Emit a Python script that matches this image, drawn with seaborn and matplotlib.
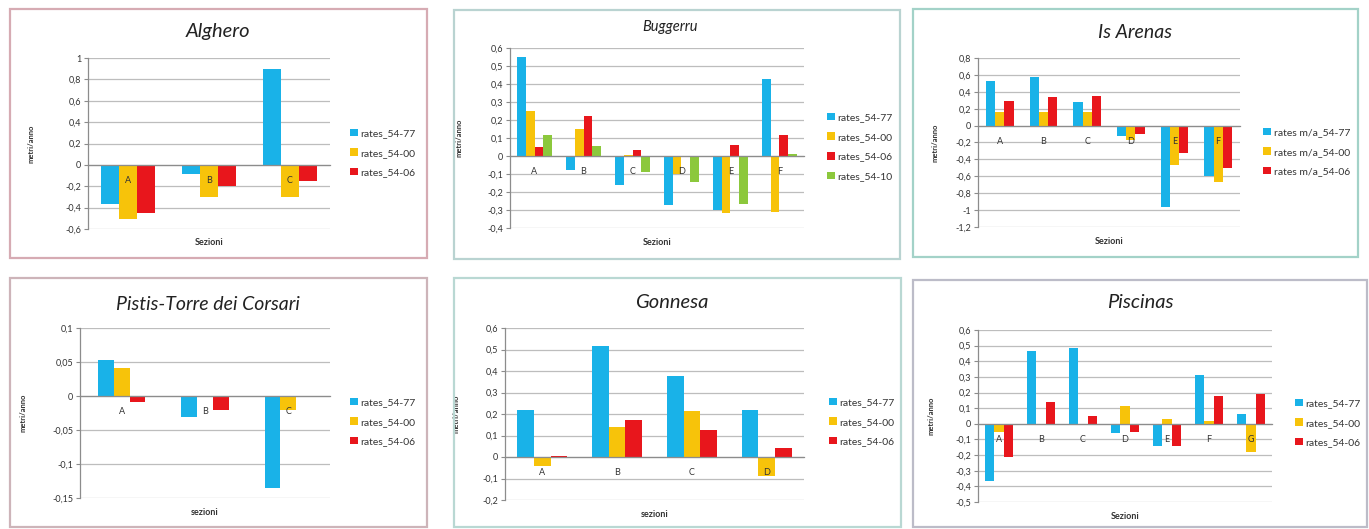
import numpy as np
import pandas as pd
import matplotlib
matplotlib.use("Agg")
import matplotlib.pyplot as plt
from matplotlib.patches import Rectangle
import seaborn as sns

# ---------------- data ----------------
series_std = ["rates_54-77", "rates_54-00", "rates_54-06"]
series_bug = ["rates_54-77", "rates_54-00", "rates_54-06", "rates_54-10"]
series_isa = ["rates m/a_54-77", "rates m/a_54-00", "rates m/a_54-06"]

alghero_sezioni = ["A", "B", "C"]
alghero_54_77 = [-0.37, -0.085, 0.90]
alghero_54_00 = [-0.51, -0.30, -0.30]
alghero_54_06 = [-0.45, -0.20, -0.15]
alghero_yticks = [-0.6, -0.4, -0.2, 0, 0.2, 0.4, 0.6, 0.8, 1]

buggerru_sezioni = ["A", "B", "C", "D", "E", "F"]
buggerru_54_77 = [0.55, -0.08, -0.16, -0.27, -0.30, 0.43]
buggerru_54_00 = [0.25, 0.15, 0.005, -0.10, -0.315, -0.31]
buggerru_54_06 = [0.05, 0.225, 0.035, 0.002, 0.06, 0.115]
buggerru_54_10 = [0.115, 0.055, -0.09, -0.145, -0.265, 0.01]
buggerru_yticks = [-0.4, -0.3, -0.2, -0.1, 0, 0.1, 0.2, 0.3, 0.4, 0.5, 0.6]

isarenas_sezioni = ["A", "B", "C", "D", "E", "F"]
isarenas_54_77 = [0.53, 0.57, 0.28, -0.12, -0.96, -0.60]
isarenas_54_00 = [0.16, 0.16, 0.16, -0.17, -0.47, -0.67]
isarenas_54_06 = [0.29, 0.34, 0.35, -0.10, -0.32, -0.50]
isarenas_yticks = [-1.2, -1, -0.8, -0.6, -0.4, -0.2, 0, 0.2, 0.4, 0.6, 0.8]

pistis_sezioni = ["A", "B", "C"]
pistis_54_77 = [0.053, -0.031, -0.135]
pistis_54_00 = [0.041, 0.0, -0.021]
pistis_54_06 = [-0.009, -0.021, 0.0]
pistis_yticks = [-0.15, -0.1, -0.05, 0, 0.05, 0.1]

gonnesa_sezioni = ["A", "B", "C", "D"]
gonnesa_54_77 = [0.22, 0.515, 0.375, 0.22]
gonnesa_54_00 = [-0.04, 0.14, 0.215, -0.088]
gonnesa_54_06 = [0.004, 0.17, 0.125, 0.042]
gonnesa_yticks = [-0.2, -0.1, 0, 0.1, 0.2, 0.3, 0.4, 0.5, 0.6]

piscinas_sezioni = ["A", "B", "C", "D", "E", "F", "G"]
piscinas_54_77 = [-0.365, 0.465, 0.485, -0.06, -0.14, 0.31, 0.065]
piscinas_54_00 = [-0.055, 0.0, 0.0, 0.115, 0.03, 0.015, -0.18]
piscinas_54_06 = [-0.215, 0.14, 0.05, -0.05, -0.14, 0.18, 0.19]
piscinas_yticks = [-0.5, -0.4, -0.3, -0.2, -0.1, 0, 0.1, 0.2, 0.3, 0.4, 0.5, 0.6]

# ---------------- style ----------------
sns.set_style("white")
plt.rcParams["font.family"] = ["Lato", "DejaVu Sans"]

COLORS = ["#19b2e8", "#f7c30a", "#e8161c", "#8cc83c"]
GRID = "#bdbdbd"
W, H = 1369, 529

fig = plt.figure(figsize=(W / 100, H / 100), dpi=100)
fig.patch.set_facecolor("white")


def fx(x):
    return x / W


def fy(y):
    return 1 - y / H


def fmt(v):
    s = "{:g}".format(round(v, 4))
    return s.replace(".", ",")


panels = [
    dict(title="Alghero", tsize=14.5, tpos=(218, 32), border=(10, 9, 427, 258), bcol="#d6abb3",
         ax=(88, 58, 330, 229), cats=alghero_sezioni,
         vals=[alghero_54_77, alghero_54_00, alghero_54_06], names=series_std,
         yticks=alghero_yticks, width=0.67, leg=(345, 153), ylab_x=35,
         xlab="Sezioni", xlab_y=238),
    dict(title="Buggerru", tsize=10.5, tpos=(670, 27), border=(454, 10, 900, 259), bcol="#b9d3d1",
         ax=(510, 48, 804, 228), cats=buggerru_sezioni,
         vals=[buggerru_54_77, buggerru_54_00, buggerru_54_06, buggerru_54_10], names=series_bug,
         yticks=buggerru_yticks, width=0.72, leg=(822, 147), ylab_x=462,
         xlab="Sezioni", xlab_y=238),
    dict(title="Is Arenas", tsize=14, tpos=(1135, 33), border=(913, 9, 1358, 257), bcol="#a3d2c8",
         ax=(978, 58, 1240, 227), cats=isarenas_sezioni,
         vals=[isarenas_54_77, isarenas_54_00, isarenas_54_06], names=series_isa,
         yticks=isarenas_yticks, width=0.64, leg=(1258, 152), ylab_x=938,
         xlab="Sezioni", xlab_y=237),
    dict(title="Pistis-Torre dei Corsari", tsize=14, tpos=(208, 305), border=(10, 278, 427, 527),
         bcol="#cdb4b9", ax=(80, 328, 330, 498), cats=pistis_sezioni,
         vals=[pistis_54_77, pistis_54_00, pistis_54_06], names=series_std,
         yticks=pistis_yticks, width=0.57, leg=(345, 422), ylab_x=27,
         xlab="sezioni", xlab_y=508),
    dict(title="Gonnesa", tsize=14.5, tpos=(672, 302), border=(454, 278, 901, 527), bcol="#b9d8d3",
         ax=(505, 328, 804, 500), cats=gonnesa_sezioni,
         vals=[gonnesa_54_77, gonnesa_54_00, gonnesa_54_06], names=series_std,
         yticks=gonnesa_yticks, width=0.67, leg=(824, 422), ylab_x=459,
         xlab="sezioni", xlab_y=510),
    dict(title="Piscinas", tsize=14.5, tpos=(1140, 303), border=(913, 280, 1367, 527), bcol="#bcbcc8",
         ax=(978, 330, 1272, 502), cats=piscinas_sezioni,
         vals=[piscinas_54_77, piscinas_54_00, piscinas_54_06], names=series_std,
         yticks=piscinas_yticks, width=0.69, leg=(1290, 423), ylab_x=935,
         xlab="Sezioni", xlab_y=512),
]

for p in panels:
    # border of the chart area
    x0, y0, x1, y1 = p["border"]
    fig.add_artist(Rectangle((fx(x0), fy(y1)), fx(x1 - x0), (y1 - y0) / H,
                             transform=fig.transFigure, fill=False,
                             edgecolor=p["bcol"], linewidth=1.6))
    fig.text(fx(p["tpos"][0]), fy(p["tpos"][1]), p["title"], ha="center", va="center",
             fontsize=p["tsize"], style="italic", color="#222222")

    a0, b0, a1, b1 = p["ax"]
    ax = fig.add_axes([fx(a0), fy(b1), fx(a1 - a0), (b1 - b0) / H])

    rows = []
    for name, vals in zip(p["names"], p["vals"]):
        for c, v in zip(p["cats"], vals):
            rows.append({"sezione": c, "valore": v, "serie": name})
    df = pd.DataFrame(rows)

    sns.barplot(data=df, x="sezione", y="valore", hue="serie", order=p["cats"],
                hue_order=p["names"], palette=COLORS[:len(p["names"])],
                width=p["width"], saturation=1, gap=0, ax=ax, linewidth=0)

    ax.set_ylim(p["yticks"][0], p["yticks"][-1])
    ax.set_yticks(p["yticks"])
    ax.set_yticklabels([fmt(v) for v in p["yticks"]])
    ax.set_axisbelow(True)
    ax.yaxis.grid(True, color=GRID, linewidth=0.9)
    ax.xaxis.set_zorder(3)

    for s in ["top", "right"]:
        ax.spines[s].set_visible(False)
    ax.spines["left"].set_color("#8c8c8c")
    ax.spines["left"].set_linewidth(0.9)
    ax.spines["bottom"].set_position(("data", 0))
    ax.spines["bottom"].set_color("#8c8c8c")
    ax.spines["bottom"].set_linewidth(0.9)

    ax.tick_params(axis="y", labelsize=6.5, colors="#8c8c8c", labelcolor="#333333",
                   length=3, width=0.8, direction="out", pad=2, left=True)
    ax.tick_params(axis="x", labelsize=6.5, labelcolor="#333333", length=0, pad=8)

    ax.set_ylabel("metri/anno", fontsize=5.5, fontweight="bold", color="#333333")
    ax.yaxis.set_label_coords(fx(p["ylab_x"]), fy((b0 + b1) / 2), transform=fig.transFigure)
    ax.set_xlabel(p["xlab"], fontsize=6.5, fontweight="bold", color="#333333")
    ax.xaxis.set_label_coords(fx((a0 + a1) / 2), fy(p["xlab_y"]), transform=fig.transFigure)

    handles, labels = ax.get_legend_handles_labels()
    if ax.get_legend() is not None:
        ax.get_legend().remove()
    fig.legend(handles, labels, loc="center left",
               bbox_to_anchor=(fx(p["leg"][0]), fy(p["leg"][1])),
               bbox_transform=fig.transFigure, frameon=False, fontsize=7.5,
               handlelength=0.7, handleheight=0.7, handletextpad=0.3,
               labelspacing=1.0, borderpad=0, labelcolor="#333333")

fig.savefig("out.png", dpi=100, facecolor="white")
